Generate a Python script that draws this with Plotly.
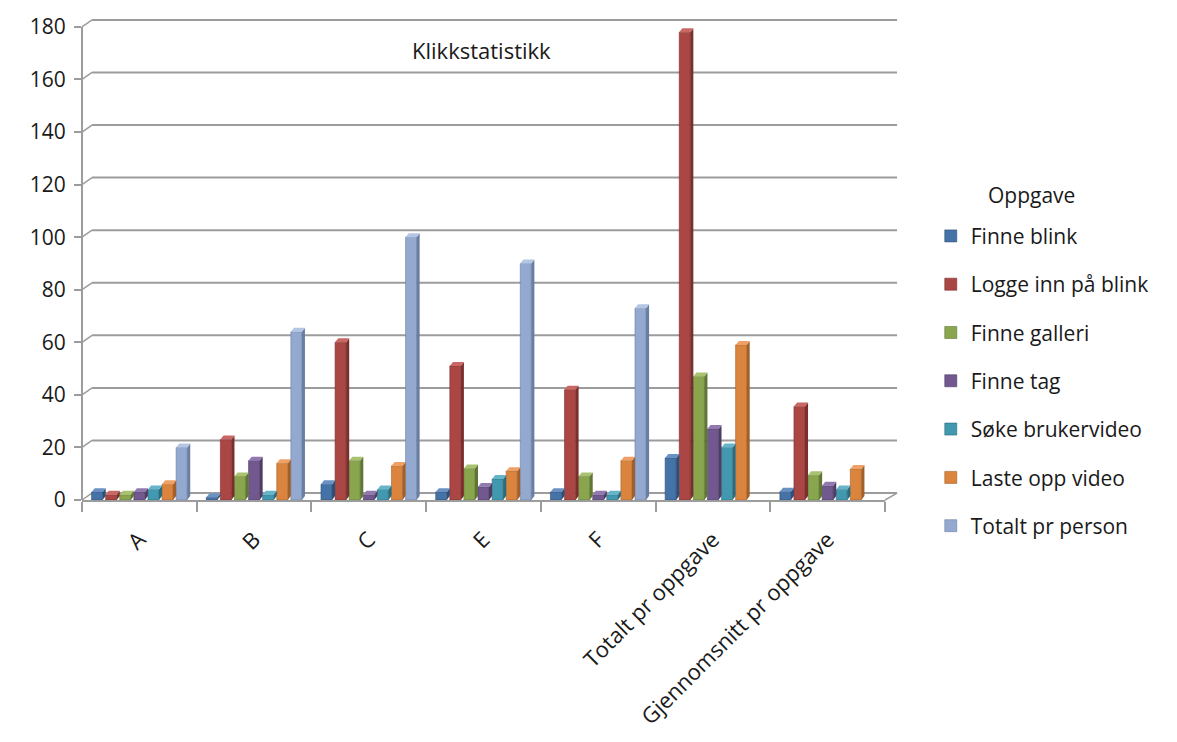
import plotly.graph_objects as go

# Klikkstatistikk per deltaker og oppgave
categories = ["A", "B", "C", "E", "F", "Totalt pr oppgave", "Gjennomsnitt pr oppgave"]

finne_blink = [3, 1, 6, 3, 3, 16, 3.2]
logge_inn = [2, 23, 60, 51, 42, 178, 35.6]
finne_galleri = [2, 9, 15, 12, 9, 47, 9.4]
finne_tag = [3, 15, 2, 5, 2, 27, 5.4]
soke_brukervideo = [4, 2, 4, 8, 2, 20, 4]
laste_opp = [6, 14, 13, 11, 15, 59, 11.8]
totalt_person = [20, 64, 100, 90, 73, None, None]

series_names = ["Finne blink", "Logge inn på blink", "Finne galleri", "Finne tag",
                "Søke brukervideo", "Laste opp video", "Totalt pr person"]
series_values = [finne_blink, logge_inn, finne_galleri, finne_tag,
                 soke_brukervideo, laste_opp, totalt_person]
colors = ["#4572A7", "#AA4643", "#89A54E", "#71588F", "#4198AF", "#DB843D", "#93A9CF"]
side_colors = ["#2F4F77", "#7A2F2D", "#5F7634", "#4E3D64", "#2C6B7C", "#A15F2A", "#6A7EA2"]
top_colors = ["#6A91C4", "#C86764", "#A8C270", "#9179B0", "#66B4CA", "#EFA064", "#B3C6E4"]

y_ticks = [0, 20, 40, 60, 80, 100, 120, 140, 160, 180]

FONT = "'Open Sans', Lato, sans-serif"
Y_MAX = 183.0
DEPTH_X = 0.0125   # depth offset of the back wall (paper units)
DEPTH_Y = 2.65     # depth offset of the back wall (data units)

BARGAP = 0.14
BARGROUPGAP = 0.22
n_series = len(series_names)
slot = (1 - BARGAP) / n_series          # slot width per bar, category units
half_w = slot * (1 - BARGROUPGAP) / 2   # half width of a bar's front face
bar_dx = slot * BARGROUPGAP             # depth of the bar's side face
bar_dy = 1.5                            # depth of the bar's top face (data units)

fig = go.Figure()
for name, vals, col, edge in zip(series_names, series_values, colors, side_colors):
    fig.add_trace(go.Bar(
        name=name, x=categories, y=vals,
        marker=dict(color=col, line=dict(color=edge, width=0.6)),
        legendgroup=name,
    ))

shapes = []
grid_col = "#9C9C9C"
for v in y_ticks:
    yb = (v + DEPTH_Y) / Y_MAX
    yf = v / Y_MAX
    # back-wall gridline
    shapes.append(dict(type="line", xref="paper", yref="paper",
                       x0=DEPTH_X, x1=1.015, y0=yb, y1=yb,
                       line=dict(color=grid_col, width=2), layer="below"))
    # diagonal from the front axis to the back wall
    shapes.append(dict(type="line", xref="paper", yref="paper",
                       x0=0, x1=DEPTH_X, y0=yf, y1=yb,
                       line=dict(color=grid_col, width=1.5), layer="below"))
# right edge of the floor
shapes.append(dict(type="line", xref="paper", yref="paper",
                   x0=1.0, x1=1.015, y0=0, y1=DEPTH_Y / Y_MAX,
                   line=dict(color=grid_col, width=1.5), layer="below"))
# front vertical axis
shapes.append(dict(type="line", xref="paper", yref="paper",
                   x0=0, x1=0, y0=0, y1=180 / Y_MAX,
                   line=dict(color=grid_col, width=2), layer="below"))

# side and top faces giving each bar its depth
for i, (vals, side, top) in enumerate(zip(series_values, side_colors, top_colors)):
    for c, v in enumerate(vals):
        if v is None:
            continue
        xc = c - (1 - BARGAP) / 2 + (i + 0.5) * slot
        xl, xr = xc - half_w, xc + half_w
        shapes.append(dict(
            type="path", xref="x", yref="y", layer="above",
            path=f"M{xr},0 L{xr},{v} L{xr + bar_dx},{v + bar_dy} L{xr + bar_dx},{bar_dy} Z",
            fillcolor=side, line=dict(width=0)))
        shapes.append(dict(
            type="path", xref="x", yref="y", layer="above",
            path=f"M{xl},{v} L{xr},{v} L{xr + bar_dx},{v + bar_dy} L{xl + bar_dx},{v + bar_dy} Z",
            fillcolor=top, line=dict(width=0)))

fig.update_layout(
    width=1177, height=742,
    margin=dict(l=82, r=292, t=16, b=242),
    paper_bgcolor="white", plot_bgcolor="white",
    barmode="group", bargap=BARGAP, bargroupgap=BARGROUPGAP,
    font=dict(family=FONT, size=20, color="#1a1a1a"),
    shapes=shapes,
    showlegend=True,
    legend=dict(
        x=1.057, xanchor="left", y=0.591, yanchor="top",
        font=dict(size=21), traceorder="grouped", tracegroupgap=18,
        itemwidth=30, bgcolor="rgba(0,0,0,0)",
    ),
    annotations=[
        dict(text="Klikkstatistikk", xref="paper", yref="paper",
             x=0.497, y=0.97, xanchor="center", showarrow=False,
             font=dict(size=22, color="#1a1a1a")),
        dict(text="Oppgave", xref="paper", yref="paper",
             x=1.183, y=0.634, xanchor="center", yanchor="middle", showarrow=False,
             font=dict(size=21, color="#1a1a1a")),
    ],
)
fig.update_xaxes(
    type="category", showline=True, linecolor=grid_col, linewidth=2,
    ticks="outside", tickson="boundaries", ticklen=10, tickcolor=grid_col, tickwidth=1.5,
    tickangle=-45, showgrid=False, tickfont=dict(size=22), ticklabelstandoff=16,
)
fig.update_yaxes(
    range=[0, Y_MAX], tickvals=y_ticks, showgrid=False, zeroline=False,
    showline=False, ticks="outside", ticklen=7, tickcolor=grid_col, tickwidth=1.5,
    tickfont=dict(size=21), ticklabelstandoff=4,
)

fig.write_html("out.html")
